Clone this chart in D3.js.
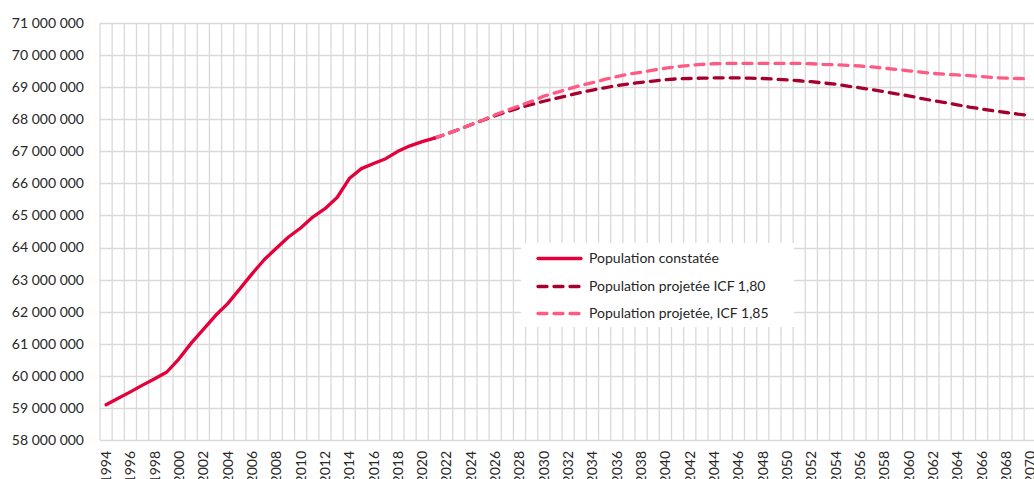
<!DOCTYPE html>
<html>
<head>
<meta charset="utf-8">
<script src="https://cdn.jsdelivr.net/npm/d3@7"></script>
<style>
  html, body { margin: 0; padding: 0; background: #fff; overflow: hidden; }
  svg { display: block; }
  text { font-family: Lato, "Open Sans", sans-serif; fill: #262626; }
</style>
</head>
<body>
<svg id="chart" width="1034" height="479"></svg>
<script>
// ---- Data ----
const years = [1994,1995,1996,1997,1998,1999,2000,2001,2002,2003,2004,2005,2006,2007,2008,2009,
  2010,2011,2012,2013,2014,2015,2016,2017,2018,2019,2020,2021,2022,2023,2024,2025,2026,2027,2028,2029,
  2030,2031,2032,2033,2034,2035,2036,2037,2038,2039,2040,2041,2042,2043,2044,2045,2046,2047,2048,2049,
  2050,2051,2052,2053,2054,2055,2056,2057,2058,2059,2060,2061,2062,2063,2064,2065,2066,2067,2068,2069,2070];

const observedYears = years.slice(0, 28);   // 1994–2021
const observed = [59.10,59.30,59.50,59.71,59.91,60.12,60.53,61.02,61.45,61.88,62.25,62.71,63.18,63.62,
  63.98,64.33,64.61,64.95,65.21,65.56,66.15,66.46,66.62,66.77,67.00,67.17,67.30,67.41]; // millions

const projYears = years.slice(27);          // 2021–2070
const proj180 = [67.41,67.54,67.68,67.83,67.97,68.11,68.24,68.36,68.46,68.56,
  68.65,68.74,68.83,68.91,68.98,69.05,69.10,69.15,69.19,69.23,
  69.26,69.27,69.28,69.29,69.29,69.29,69.28,69.27,69.25,69.23,
  69.20,69.17,69.13,69.09,69.03,68.98,68.92,68.86,68.79,68.73,
  68.65,68.58,68.52,68.45,68.38,68.32,68.26,68.21,68.16,68.12];
const proj185 = [67.41,67.54,67.68,67.83,67.97,68.14,68.28,68.42,68.56,68.72,
  68.83,68.94,69.05,69.14,69.24,69.33,69.41,69.46,69.53,69.59,
  69.64,69.68,69.71,69.73,69.74,69.74,69.74,69.74,69.74,69.74,
  69.74,69.73,69.71,69.70,69.68,69.66,69.63,69.59,69.55,69.51,
  69.47,69.43,69.40,69.38,69.36,69.33,69.30,69.28,69.27,69.26];

const yTicks = [58e6,59e6,60e6,61e6,62e6,63e6,64e6,65e6,66e6,67e6,68e6,69e6,70e6,71e6];
const xTickLabels = years.filter((d, i) => i % 2 === 0);

const seriesNames = ["Population constatée", "Population projetée ICF 1,80", "Population projetée, ICF 1,85"];
const colors = ["#e4003a", "#a6002f", "#ff5a85"];

// ---- Layout ----
const svg = d3.select("#chart");
const plotL = 100, plotR = 100 + 77 * 12.16, plotT = 23, plotB = 440;

const x = d3.scaleBand().domain(years).range([plotL, plotR]).padding(0);
const y = d3.scaleLinear().domain([58e6, 71e6]).range([plotB, plotT]);
const cx = d => x(d) + x.bandwidth() / 2;

const grid = svg.append("g");
grid.selectAll("line.h").data(yTicks).join("line")
  .attr("x1", plotL).attr("x2", plotR)
  .attr("y1", d => Math.round(y(d)) + 0.5).attr("y2", d => Math.round(y(d)) + 0.5)
  .attr("stroke", "#d9d9d9").attr("stroke-width", 1.3);
grid.selectAll("line.v").data(years.concat([null])).join("line")
  .attr("x1", (d, i) => plotL + i * x.bandwidth()).attr("x2", (d, i) => plotL + i * x.bandwidth())
  .attr("y1", plotT).attr("y2", plotB)
  .attr("stroke", "#d9d9d9").attr("stroke-width", 1.3);

const fmt = v => d3.format(",")(v).replace(/,/g, " ");
svg.append("g").selectAll("text").data(yTicks).join("text")
  .attr("x", 84).attr("y", d => y(d)).attr("dy", "0.35em")
  .attr("text-anchor", "end").style("font-size", "14px")
  .text(fmt);

svg.append("g").selectAll("text").data(xTickLabels).join("text")
  .attr("transform", d => `translate(${cx(d)},451) rotate(-90)`)
  .attr("dy", "0.35em").attr("text-anchor", "end").style("font-size", "14px")
  .text(d => d);

const line = d3.line().x(d => cx(d[0])).y(d => y(d[1] * 1e6));
const zip = (a, b) => a.map((d, i) => [d, b[i]]);

svg.append("path").datum(zip(projYears, proj180))
  .attr("d", line).attr("fill", "none").attr("stroke", colors[1])
  .attr("stroke-width", 3.3).attr("stroke-dasharray", "9,7").attr("stroke-linecap", "round");
svg.append("path").datum(zip(projYears, proj185))
  .attr("d", line).attr("fill", "none").attr("stroke", colors[2])
  .attr("stroke-width", 3.3).attr("stroke-dasharray", "9,7").attr("stroke-linecap", "round");
svg.append("path").datum(zip(observedYears, observed))
  .attr("d", line).attr("fill", "none").attr("stroke", colors[0])
  .attr("stroke-width", 3.3).attr("stroke-linecap", "round").attr("stroke-linejoin", "round");

const lg = svg.append("g");
lg.append("rect").attr("x", 521).attr("y", 243).attr("width", 273).attr("height", 84).attr("fill", "#fff");
const rowsY = [258.5, 286.5, 313.5];
seriesNames.forEach((name, i) => {
  lg.append("line").attr("x1", 538).attr("x2", 581).attr("y1", rowsY[i]).attr("y2", rowsY[i])
    .attr("stroke", colors[i]).attr("stroke-width", 3.3).attr("stroke-linecap", "round")
    .attr("stroke-dasharray", i === 0 ? null : "9,7");
  lg.append("text").attr("x", 589).attr("y", rowsY[i]).attr("dy", "0.35em")
    .style("font-size", "14px").text(name);
});
</script>
</body>
</html>
